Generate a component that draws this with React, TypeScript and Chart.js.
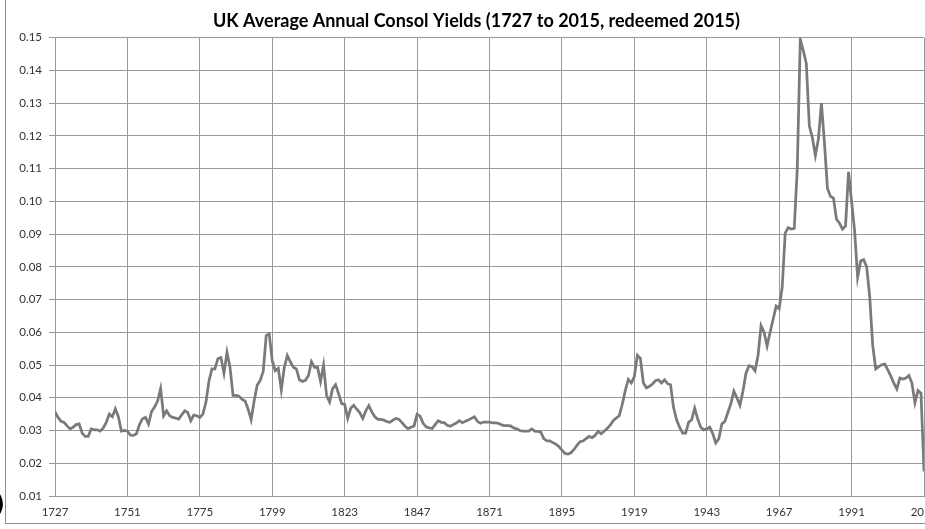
import React, { useEffect, useRef } from "react";
import { Chart, registerables } from "chart.js";

Chart.register(...registerables);

const TITLE = "UK Average Annual Consol Yields (1727 to 2015, redeemed 2015)";
const START_YEAR = 1727;

// Annual average consol yields, 1727 .. 2015 (one value per year)
const YIELDS_1727_1775 = [
  0.0358, 0.034, 0.0328, 0.0325, 0.0314, 0.0305, 0.031, 0.0318, 0.032, 0.0292,
  0.0282, 0.0282, 0.0305, 0.0302, 0.0302, 0.0298, 0.0308, 0.0325, 0.035, 0.0342,
  0.0366, 0.0342, 0.0298, 0.03, 0.0298, 0.0286, 0.0285, 0.029, 0.0318, 0.0336,
  0.034, 0.032, 0.0358, 0.0372, 0.039, 0.0428, 0.0345, 0.036, 0.0345, 0.034,
  0.0338, 0.0335, 0.0348, 0.036, 0.0355, 0.033, 0.0347, 0.0345, 0.034,
];
const YIELDS_1776_1823 = [
  0.035, 0.0385, 0.045, 0.0488, 0.0488, 0.052, 0.0523, 0.0475, 0.0539, 0.0493,
  0.0407, 0.0407, 0.0405, 0.0395, 0.039, 0.0365, 0.0333, 0.039, 0.0438, 0.0453,
  0.048, 0.059, 0.0595, 0.0513, 0.0483, 0.049, 0.0424, 0.0493, 0.0529, 0.051,
  0.0493, 0.0488, 0.0455, 0.045, 0.0453, 0.0468, 0.051, 0.0493, 0.0493, 0.045,
  0.05, 0.0407, 0.0387, 0.0428, 0.044, 0.0412, 0.0382, 0.038,
];
const YIELDS_1824_1871 = [
  0.0337, 0.0368, 0.0377, 0.0365, 0.0355, 0.0337, 0.036, 0.0376, 0.0357, 0.0342,
  0.0334, 0.0334, 0.0332, 0.0327, 0.0325, 0.0332, 0.0337, 0.0334, 0.0324, 0.0313,
  0.0306, 0.031, 0.0314, 0.035, 0.0344, 0.0322, 0.0311, 0.0308, 0.0306, 0.0318,
  0.033, 0.0325, 0.0324, 0.0316, 0.0313, 0.0318, 0.0323, 0.033, 0.0324, 0.0328,
  0.0332, 0.0337, 0.0342, 0.0328, 0.0322, 0.0326, 0.0326, 0.0326,
];
const YIELDS_1872_1919 = [
  0.0323, 0.0323, 0.0322, 0.0317, 0.0315, 0.0315, 0.0314, 0.0308, 0.0305, 0.03,
  0.0298, 0.0298, 0.0298, 0.0305, 0.0298, 0.0297, 0.0295, 0.0275, 0.0268, 0.0268,
  0.0263, 0.0258, 0.0251, 0.024, 0.023, 0.0228, 0.0232, 0.0242, 0.0255, 0.0266,
  0.0268, 0.0275, 0.0282, 0.0278, 0.0285, 0.0297, 0.029, 0.0298, 0.0306, 0.0316,
  0.033, 0.0338, 0.0345, 0.038, 0.0422, 0.0456, 0.0445, 0.0465,
];
const YIELDS_1920_1967 = [
  0.053, 0.052, 0.0445, 0.043, 0.0435, 0.0442, 0.0452, 0.0455, 0.0445, 0.0455,
  0.0443, 0.044, 0.037, 0.0333, 0.031, 0.0292, 0.0292, 0.0325, 0.0333, 0.0368,
  0.0335, 0.031, 0.0302, 0.0305, 0.031, 0.029, 0.0262, 0.0275, 0.032, 0.0328,
  0.0355, 0.0382, 0.042, 0.04, 0.0377, 0.042, 0.0475, 0.0498, 0.0495, 0.0482,
  0.053, 0.062, 0.06, 0.0558, 0.06, 0.064, 0.068, 0.0672,
];
const YIELDS_1968_2015 = [
  0.0737, 0.0903, 0.092, 0.0915, 0.0917, 0.11, 0.1495, 0.146, 0.142, 0.123,
  0.1195, 0.114, 0.119, 0.13, 0.118, 0.104, 0.1015, 0.101, 0.0945, 0.0933,
  0.0915, 0.0925, 0.109, 0.1, 0.091, 0.0768, 0.0818, 0.0822, 0.08, 0.071,
  0.056, 0.0488, 0.0495, 0.0501, 0.0503, 0.0485, 0.0466, 0.0445, 0.0427, 0.046,
  0.0457, 0.046, 0.0468, 0.0445, 0.0385, 0.0422, 0.0414, 0.0175,
];

const X_TICKS = [1727, 1751, 1775, 1799, 1823, 1847, 1871, 1895, 1919, 1943, 1967, 1991, 2015];
const Y_MIN = 0.01;
const Y_MAX = 0.15;
const Y_STEP = 0.01;

const YIELDS = [
  ...YIELDS_1727_1775,
  ...YIELDS_1776_1823,
  ...YIELDS_1824_1871,
  ...YIELDS_1872_1919,
  ...YIELDS_1920_1967,
  ...YIELDS_1968_2015,
];
const YEARS = YIELDS.map((_, i) => START_YEAR + i);

const TICK_FONT = { family: "Lato, 'Open Sans', sans-serif", size: 11.5 };
const GRID = "#9a9a9a";

export default function App() {
  const ref = useRef<HTMLCanvasElement | null>(null);

  useEffect(() => {
    const canvas = ref.current;
    if (!canvas) return;
    const chart = new Chart(canvas, {
      type: "line",
      data: {
        datasets: [
          {
            data: YEARS.map((y, i) => ({ x: y, y: YIELDS[i] })),
            borderColor: "#7a7a7a",
            borderWidth: 2.75,
            pointRadius: 0,
            tension: 0,
            fill: false,
          },
        ],
      },
      options: {
        animation: false,
        responsive: false,
        devicePixelRatio: 1,
        layout: { padding: 0 },
        plugins: {
          legend: { display: false },
          tooltip: { enabled: false },
          title: {
            display: true,
            text: TITLE,
            color: "#000",
            font: { family: "Lato, 'Open Sans', sans-serif", size: 18, weight: "bold", lineHeight: 1.2 },
            padding: { top: 10, bottom: 6 },
          },
        },
        scales: {
          x: {
            type: "linear",
            min: X_TICKS[0],
            max: X_TICKS[X_TICKS.length - 1],
            afterBuildTicks: (scale: any) => {
              scale.ticks = X_TICKS.map((v) => ({ value: v }));
            },
            afterFit: (scale: any) => {
              scale.height = 33;
              scale.paddingLeft = 0;
              scale.paddingRight = 29;
            },
            ticks: {
              autoSkip: false,
              maxRotation: 0,
              minRotation: 0,
              padding: 9,
              color: "#333",
              font: TICK_FONT,
              callback: (v: any) => String(v),
            },
            grid: { color: GRID, lineWidth: 1, drawTicks: false },
            border: { color: GRID, width: 1 },
          },
          y: {
            type: "linear",
            min: Y_MIN,
            max: Y_MAX,
            afterFit: (scale: any) => {
              scale.width = 55;
            },
            ticks: {
              stepSize: Y_STEP,
              padding: 7,
              color: "#333",
              font: TICK_FONT,
              callback: (v: any) => Number(v).toFixed(2),
            },
            grid: { color: GRID, lineWidth: 1, drawTicks: true, tickLength: 6 },
            border: { color: GRID, width: 1 },
          },
        },
      },
    });
    return () => chart.destroy();
  }, []);

  return (
    <div
      style={{
        position: "fixed",
        left: 0,
        top: 0,
        width: 925,
        height: 529,
        overflow: "hidden",
        background: "#fff",
      }}
    >
      <div
        style={{
          position: "absolute",
          left: 5,
          top: -2,
          width: 1000,
          height: 526,
          boxSizing: "border-box",
          border: "1px solid #8c8c8c",
        }}
      />
      <canvas
        ref={ref}
        width={953}
        height={529}
        style={{ position: "absolute", left: 0, top: 0, width: 953, height: 529 }}
      />
      <span
        style={{
          position: "absolute",
          left: -6,
          top: 492,
          fontFamily: "'DejaVu Sans', sans-serif",
          fontWeight: "bold",
          fontSize: 24,
          lineHeight: 1,
          color: "#000",
        }}
      >
        )
      </span>
    </div>
  );
}
